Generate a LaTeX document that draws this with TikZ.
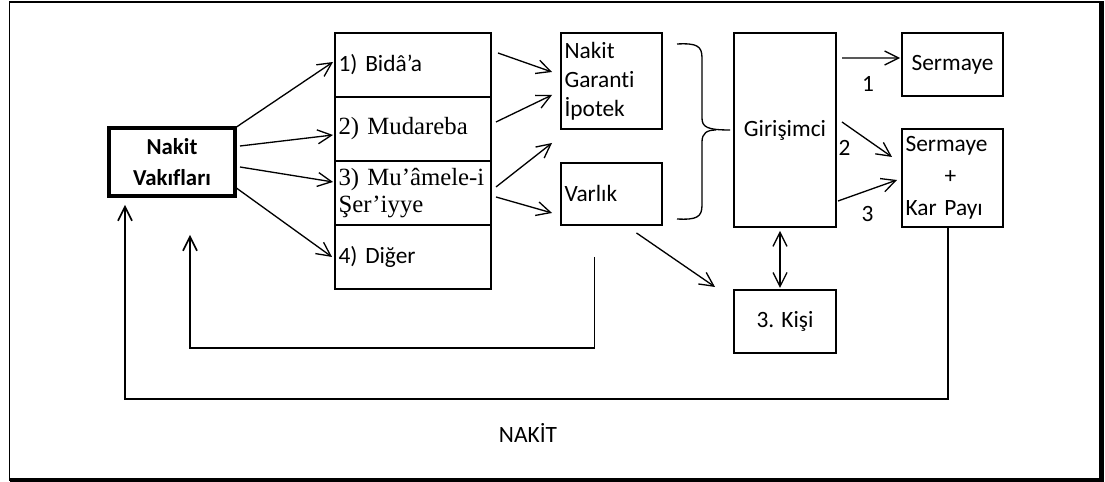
\documentclass[tikz,border=0pt]{standalone}
\usepackage{fontspec}
\setmainfont{Carlito}[Ligatures=NoCommon]
\newfontfamily\serifface{Liberation Serif}
\usetikzlibrary{arrows.meta,calc,positioning}
\newcommand\diagfont{\fontsize{13.3}{16.5}\selectfont}
\newcommand\seriffont{\serifface\fontsize{14.1}{15}\selectfont}
\tikzset{
  fund/.style={
    draw, line width=2.3pt, outer sep=0pt, minimum width=2.52cm,
    minimum height=1.36cm, align=center, font=\fontsize{13}{17.5}\selectfont\bfseries
  },
  contract/.style={
    draw, line width=1.1pt, outer sep=0pt, minimum width=3.12cm,
    minimum height=1.28cm, text width=2.979cm, inner xsep=2pt, align=left, font=\diagfont
  },
  box/.style={
    draw, line width=1.1pt, outer sep=0pt, minimum width=2.04cm,
    minimum height=1.26cm, align=center, font=\diagfont
  },
  leftbox/.style={box, text width=1.879cm, inner xsep=2pt, align=left},
  flow/.style={-{Straight Barb[length=2.8mm,width=2.8mm]}, line width=0.75pt},
  twoway/.style={{Straight Barb[length=2.8mm,width=2.8mm]}-{Straight Barb[length=2.8mm,width=2.8mm]}, line width=0.75pt},
  backflow/.style={flow, line width=0.9pt},
  tag/.style={font=\diagfont, inner sep=1pt}
}
\begin{document}
\begin{tikzpicture}[x=0.02cm,y=-0.02cm]
    \useasboundingbox (0,0) rectangle (1105,482);
    \draw[line width=1.1pt] (9.5,2) rectangle (1101.5,480);
    \draw[line width=2.3pt] (9.5,480) -- (1101.5,480) -- (1101.5,1);

    \node[fund] (nv) at (172,162) {Nakit\\Vakıfları};
    \node[contract] (b1) at (413,65) {1) Bidâ’a};
    \node[contract,below=0pt of b1,font=\seriffont] (b2) {2) Mudareba};
    \node[contract,below=0pt of b2,font=\seriffont] (b3) {\mbox{3) Mu’âmele-i}\\Şer’iyye};
    \node[contract,below=0pt of b3] (b4) {4) Diğer};
    \node[leftbox,minimum width=2.02cm,minimum height=1.92cm] (ngi) at (611.5,81) {Nakit\\Garanti\\İpotek};
    \node[leftbox,minimum width=2.02cm,minimum height=1.24cm,below=0.68cm of ngi] (varlik) {Varlık};
    \node[box,minimum height=3.88cm] (giri) at (785,130) {Girişimci};
    \node[box,below=1.26cm of giri] (kisi) {3. Kişi};
    \node[box,minimum width=2.02cm] (serm) at (952.5,64.5) {Sermaye};
    \node[leftbox,minimum width=2.02cm,minimum height=1.96cm,inner ysep=2pt,below=0.66cm of serm,
      font=\fontsize{13.3}{18.2}\selectfont] (skp) {Sermaye\\\hspace*{0.78cm}+\\Kar Payı};
    \node[tag] (cash) at (528,433) {NAKİT};

    \draw[flow] (nv.north east) -- ($(b1.west)+(-2,-3)$);
    \draw[flow] ($(nv.east)+(5,-16)$) -- ($(b2.west)+(-2,6)$);
    \draw[flow] ($(nv.east)+(5,5)$) -- ($(b3.west)+(-2,-11)$);
    \draw[flow] ($(nv.east)+(0,25)$) -- ($(b4.west)+(-3,0)$);

    \draw[flow] ($(b1.east)+(7,-12)$) -- ($(ngi.west)+(-9,-9)$);
    \draw[flow] ($(b2.east)+(5,-7)$) -- ($(ngi.west)+(-9,14)$);
    \draw[flow] ($(b3.east)+(5,-6)$) -- ($(ngi.south west)+(-9,14)$);
    \draw[flow] ($(b3.east)+(5,4)$) -- ($(varlik.west)+(-9,19)$);

    % brace from the two middle boxes into Girisimci
    \draw[line width=0.75pt] (677,44) .. controls (697,43) and (702,46) .. (702,58) -- (702,118)
      .. controls (702,127) and (707,130) .. (730,130);
    \draw[line width=0.75pt] (677,219) .. controls (697,220) and (702,217) .. (702,205) -- (702,142)
      .. controls (702,133) and (707,130) .. (716,130);

    \draw[flow] ($(varlik.south)+(25,8)$) -- ($(kisi.north west)+(-19,-3)$);
    \draw[twoway] ($(giri.south)+(-5,4)$) -- ($(kisi.north)+(-5,-2)$);

    \draw[flow] ($(giri.north east)+(6,25)$) -- ($(serm.west)+(-2,-6.5)$)
      node[tag,pos=0.45,below=9pt] {1};
    \draw[flow] ($(giri.east)+(6,-8)$) -- ($(skp.west)+(-10,-21)$)
      node[tag,pos=0.05,below=8pt] {2};
    \draw[flow] ($(giri.east)+(2,71)$) -- ($(skp.west)+(-5,2)$)
      node[tag,pos=0.5,below=7.5pt] {3};

    \draw[backflow] ($(varlik.south)+(-17,32)$) -- ($(varlik.south)+(-17,123)$) -| ($(nv.south)+(18,39)$);
    \draw[backflow] ($(skp.south)+(-4.5,0)$) -- ++(0,172) -| ($(nv.south)+(-47,9)$);
\end{tikzpicture}
\end{document}
